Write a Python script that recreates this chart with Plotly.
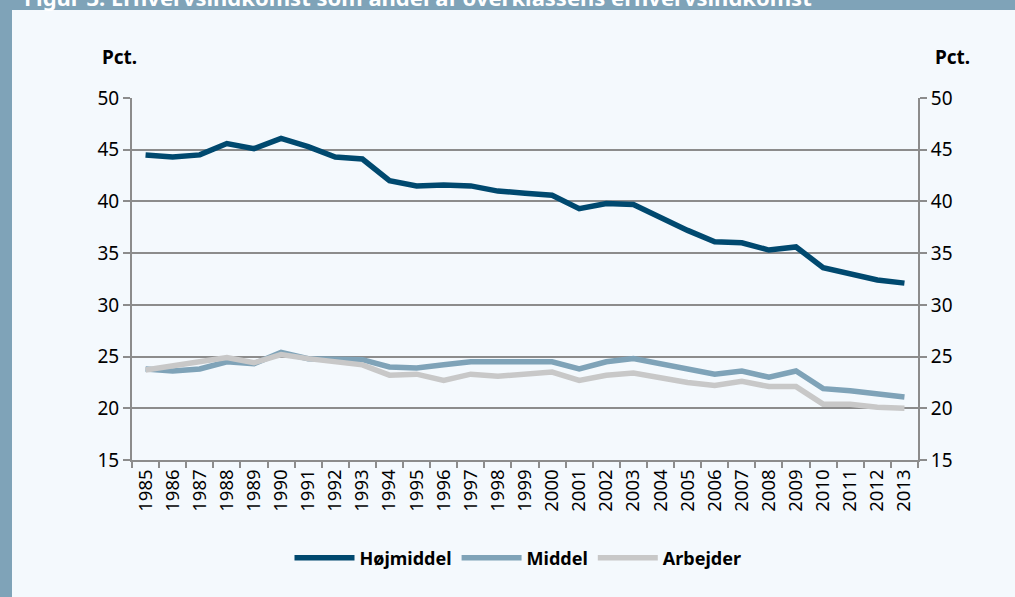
import plotly.graph_objects as go

years = [str(y) for y in range(1985, 2014)]
hojmiddel = [44.5, 44.3, 44.5, 45.6, 45.1, 46.1, 45.3, 44.3, 44.1, 42.0, 41.5, 41.6, 41.5, 41.0,
             40.8, 40.6, 39.3, 39.8, 39.7, 38.4, 37.2, 36.1, 36.0, 35.3, 35.6, 33.6, 33.0, 32.4, 32.1]
middel = [23.8, 23.6, 23.8, 24.5, 24.3, 25.4, 24.8, 24.8, 24.7, 24.0, 23.9, 24.2, 24.5, 24.5,
          24.5, 24.5, 23.8, 24.5, 24.8, 24.3, 23.7, 23.3, 23.6, 23.0, 23.6, 21.9, 21.7, 21.4, 21.1]
arbejder = [23.7, 24.1, 24.5, 24.9, 24.4, 25.2, 24.8, 24.5, 24.2, 23.2, 23.3, 22.7, 23.3, 23.1,
            23.3, 23.5, 22.7, 23.2, 23.4, 22.9, 22.5, 22.2, 22.6, 22.1, 22.1, 20.4, 20.4, 20.1, 20.0]

W, H = 1015, 597
L, R, T, B = 132, 97, 98, 137
pw, ph = W - L - R, H - T - B

def px(x):
    return (x - L) / pw

def py(y):
    return (H - B - y) / ph

FONT = "Noto Sans"
GRID = "#8c8c8c"
BG = "#f4f9fd"
BAND = "#7fa3b8"

fig = go.Figure()
fig.add_trace(go.Scatter(x=years, y=hojmiddel, name="Højmiddel", mode="lines",
                         line=dict(color="#00496f", width=5.5)))
fig.add_trace(go.Scatter(x=years, y=middel, name="Middel", mode="lines",
                         line=dict(color="#7fa3b8", width=5.5)))
fig.add_trace(go.Scatter(x=years, y=arbejder, name="Arbejder", mode="lines",
                         line=dict(color="#c8c8c8", width=5.5)))
# invisible trace to anchor the right axis
fig.add_trace(go.Scatter(x=years, y=arbejder, yaxis="y2", mode="lines", opacity=0,
                         showlegend=False, hoverinfo="skip", line=dict(width=0)))

fig.update_layout(
    width=W, height=H,
    margin=dict(l=L, r=R, t=T, b=B),
    paper_bgcolor=BG, plot_bgcolor=BG,
    font=dict(family=FONT, size=16, color="#000000"),
    xaxis=dict(type="category", range=[-0.5, 28.5], tickangle=-90, ticks="outside",
               tickson="boundaries", ticklen=6, tickcolor=GRID, tickwidth=1.5,
               showline=True, linecolor=GRID, linewidth=2, showgrid=False,
               tickfont=dict(size=18.5, family=FONT)),
    yaxis=dict(range=[15, 50], dtick=5, ticks="outside", ticklen=7, tickcolor=GRID,
               tickwidth=1.5, showline=True, linecolor=GRID, linewidth=2,
               showgrid=True, gridcolor=GRID, gridwidth=1.5, zeroline=False,
               tickfont=dict(size=19, family=FONT)),
    yaxis2=dict(range=[15, 50], dtick=5, overlaying="y", side="right", ticks="outside",
                ticklen=7, tickcolor=GRID, tickwidth=1.5, showline=True, linecolor=GRID,
                linewidth=2, showgrid=False, zeroline=False,
                tickfont=dict(size=19, family=FONT)),
    legend=dict(orientation="h", x=px(518), xanchor="center", y=py(558), yanchor="middle",
                font=dict(size=18, family=FONT, weight=700), bgcolor="rgba(0,0,0,0)",
                itemwidth=60, tracegroupgap=0),
    showlegend=True,
)

# frame: title bar and left band
fig.add_shape(type="rect", xref="paper", yref="paper",
              x0=px(0), x1=px(W), y0=py(10), y1=py(-5),
              fillcolor=BAND, line=dict(width=0), layer="below")
fig.add_shape(type="rect", xref="paper", yref="paper",
              x0=px(0), x1=px(12), y0=py(H + 5), y1=py(-5),
              fillcolor=BAND, line=dict(width=0), layer="below")
fig.add_shape(type="rect", xref="paper", yref="paper",
              x0=px(12), x1=px(W + 5), y0=py(H + 5), y1=py(10),
              fillcolor=BG, line=dict(width=0), layer="below")

fig.add_annotation(text="Figur 3. Erhvervsindkomst som andel af overklassens erhvervsindkomst",
                   xref="paper", yref="paper", x=px(22), y=py(14), xanchor="left",
                   yanchor="bottom", showarrow=False,
                   font=dict(size=22, family=FONT, color="white", weight=700))
fig.add_annotation(text="<b>Pct.</b>", xref="paper", yref="paper", x=px(119), y=py(57),
                   xanchor="center", yanchor="middle", showarrow=False,
                   font=dict(size=19, family=FONT))
fig.add_annotation(text="<b>Pct.</b>", xref="paper", yref="paper", x=px(952), y=py(57),
                   xanchor="center", yanchor="middle", showarrow=False,
                   font=dict(size=19, family=FONT))

fig.write_html("out.html", config={"displayModeBar": False},
               post_script="document.body.style.margin='0';")
